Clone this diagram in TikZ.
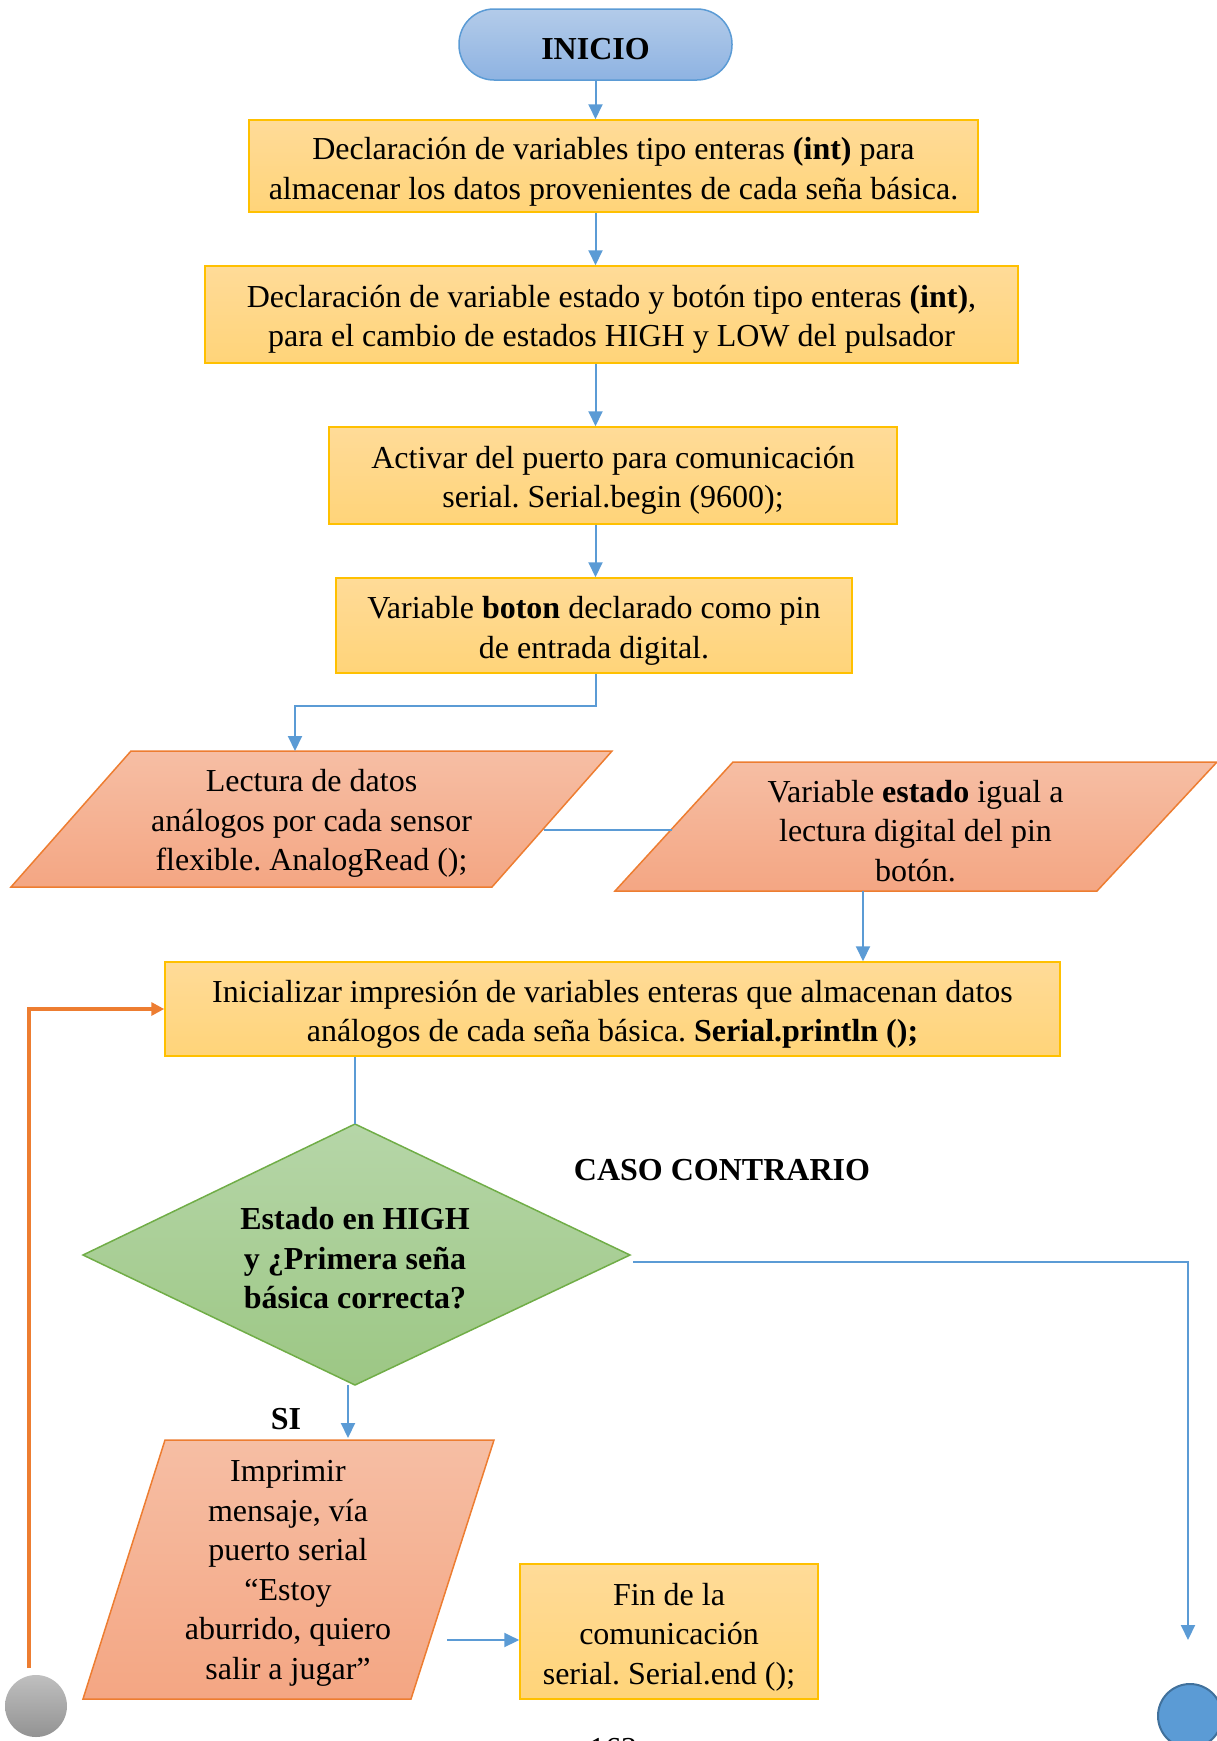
\documentclass[tikz,border=0pt]{standalone}
\usepackage{fontspec}
\setmainfont{Liberation Serif}
\usetikzlibrary{arrows.meta}
\definecolor{yTop}{HTML}{FFDB98}
\definecolor{yBot}{HTML}{FFD479}
\definecolor{yBorder}{HTML}{FFC000}
\definecolor{oTop}{HTML}{F6BEA4}
\definecolor{oBot}{HTML}{F4A683}
\definecolor{oBorder}{HTML}{ED7D31}
\definecolor{gTop}{HTML}{B6D6A8}
\definecolor{gBot}{HTML}{9CC784}
\definecolor{gBorder}{HTML}{70AD47}
\definecolor{bTop}{HTML}{B3CBE9}
\definecolor{bBot}{HTML}{8EB3E2}
\definecolor{bBorder}{HTML}{5B9BD5}
\definecolor{lineBlue}{HTML}{5B9BD5}
\definecolor{circBlue}{HTML}{5B9BD5}
\definecolor{circBlueBorder}{HTML}{41719C}
\frenchspacing
\begin{document}
\begin{tikzpicture}[x=1pt,y=-1pt,
  txt/.style={font=\fontsize{32}{39.5}\selectfont, align=center, inner sep=0pt},
  btxt/.style={font=\fontsize{32}{39.5}\selectfont\bfseries, align=center, inner sep=0pt},
  ybox/.style={draw=yBorder, line width=1.5pt, top color=yTop, bottom color=yBot, inner sep=0pt},
  oshape/.style={draw=oBorder, line width=1.5pt, top color=oTop, bottom color=oBot},
  gshape/.style={draw=gBorder, line width=1.5pt, top color=gTop, bottom color=gBot},
  conn/.style={draw=lineBlue, line width=2pt},
  arr/.style={conn, -{Triangle[length=15pt,width=14pt]}},
  oarr/.style={draw=oBorder, line width=3.5pt, -{Triangle[length=13pt,width=13pt]}}
]
\useasboundingbox (0,0) rectangle (1217,1741);
\clip (0,0) rectangle (1217,1741);

% INICIO
\node[draw=bBorder, line width=1.5pt, top color=bTop, bottom color=bBot,
  minimum width=273pt, minimum height=71pt, rounded corners=35pt] (inicio) at (595.5,44.5) {};
\node[btxt] (inicioT) at (595.5,49) {INICIO};

% boxes
\node[ybox, minimum width=729pt, minimum height=92pt] (box1) at (613.5,166) {};
\node[txt] (box1T) at (613.5,172)
  {Declaración de variables tipo enteras \textbf{(int)} para\\almacenar los datos provenientes de cada seña básica.};
\node[ybox, minimum width=813pt, minimum height=97pt] (box2) at (611.5,314.5) {};
\node[txt] (box2T) at (611.5,319.5)
  {Declaración de variable estado y botón tipo enteras \textbf{(int)},\\para el cambio de estados HIGH y LOW del pulsador};
\node[ybox, minimum width=568pt, minimum height=97pt] (box3) at (613,475.5) {};
\node[txt] (box3T) at (613,480.5)
  {Activar del puerto para comunicación\\serial. Serial.begin (9600);};
\node[ybox, minimum width=516pt, minimum height=95pt] (box4) at (594,625.5) {};
\node[txt] (box4T) at (594,631)
  {Variable \textbf{boton} declarado como pin\\de entrada digital.};

% parallelogram 1
\path[oshape] (131,751) -- (612,751) -- (492,887) -- (11,887) -- cycle;
\node[txt] (p1) at (311.5,823.5) {Lectura de datos\\análogos por cada sensor\\flexible. AnalogRead ();};
\coordinate (p1in) at (295,751);
\coordinate (p1right) at (544,830);

% parallelogram 2
\path[oshape] (733,762) -- (1217,762) -- (1097,891) -- (615,891) -- cycle;
\node[txt] (p2) at (915.5,831) {Variable \textbf{estado} igual a\\lectura digital del pin\\botón.};
\coordinate (p2left) at (672,830);
\coordinate (p2bot) at (863,891);

% box5
\node[ybox, minimum width=895pt, minimum height=94pt] (box5) at (612.5,1009) {};
\node[txt] (box5T) at (612.5,1014.5)
  {Inicializar impresión de variables enteras que almacenan datos\\análogos de cada seña básica. \textbf{Serial.println ();}};

% diamond
\path[gshape] (355,1124) coordinate (dtop) -- (630,1255) coordinate (dright)
  -- (355,1385) coordinate (dbottom) -- (83,1255) -- cycle;
\node[btxt] (dec) at (355,1258.5)
  {Estado en HIGH\\y ¿Primera seña\\básica correcta?};

\node[btxt] (caso) at (722,1170) {CASO CONTRARIO};
\node[btxt] (si) at (286,1419) {SI};

% parallelogram 3
\path[oshape] (165,1440) -- (494,1440) -- (411,1699) -- (83,1699) -- cycle;
\node[txt] (p3) at (288,1573.5)
  {Imprimir\\mensaje, vía\\puerto serial\\“Estoy\\aburrido, quiero\\salir a jugar”};
\coordinate (p3in) at (348,1438);
\coordinate (p3out) at (447,1640);

% fin
\node[ybox, minimum width=298pt, minimum height=135pt] (fin) at (669,1631.5) {};
\node[txt] (finT) at (669,1637)
  {Fin de la\\comunicación\\serial. Serial.end ();};

% circles
\node[circle, minimum size=62pt, inner sep=0pt, top color=gray!50, bottom color=gray!85] (gcirc) at (36,1706) {};
\node[circle, minimum size=64pt, inner sep=0pt, fill=circBlue, draw=circBlueBorder, line width=2pt] (bcirc) at (1190,1716) {};

% page number (cut off at the lower edge)
\node[txt, anchor=north] (page) at (613,1738) {162};

% connectors
\draw[arr] (inicio.south) -- (inicio.south |- box1.north);
\draw[arr] (box1.south -| inicio.south) -- (inicio.south |- box2.north);
\draw[arr] (box2.south -| inicio.south) -- (inicio.south |- box3.north);
\draw[arr] (box3.south -| inicio.south) -- (inicio.south |- box4.north);
\draw[arr] (box4.south -| inicio.south) -- ++(0,32) -| (p1in);
\draw[conn] (p1right) -- (p2left);
\draw[arr] (p2bot) -- (p2bot |- box5.north);
\draw[conn] (box5.south -| dtop) -- (dtop);
\coordinate (rstart) at (633,1262);
\coordinate (rend) at (1188,1640);
\draw[arr] (rstart) -| (rend);
\draw[arr] (dbottom) ++(-7,0) -- (p3in);
\draw[arr] (p3out) -- (p3out -| fin.west);
\coordinate (loopstart) at (29,1668);
\draw[oarr] (loopstart) |- (box5.west);
\end{tikzpicture}
\end{document}
